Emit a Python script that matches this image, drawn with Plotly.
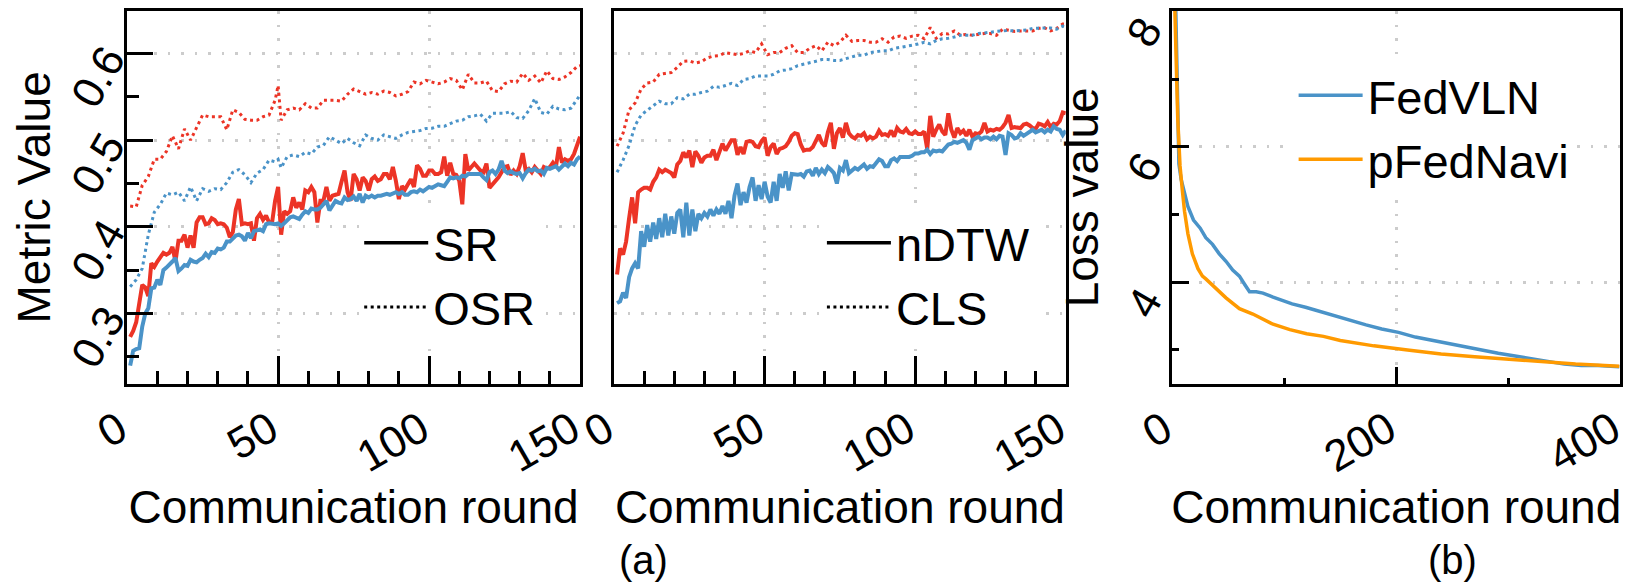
import plotly.graph_objects as go

# ---------------- data ----------------
ROUNDS = list(range(1, 151))
LEFT_DOT_ROUNDS = sorted(list(range(1, 150, 2)) + [50, 150])
MID_DOT_ROUNDS = list(range(1, 150, 2)) + [150]

SR_PFEDNAVI = [
    .273, .28, .29, .31, .333, .33, .32, .358, .354, .36,
    .365, .37, .368, .37, .377, .36, .384, .384, .391, .376,
    .39, .376, .405, .411, .411, .403, .404, .41, .408, .403,
    .404, .403, .399, .388, .394, .42, .432, .403, .404, .403,
    .404, .384, .41, .415, .408, .413, .405, .405, .43, .446,
    .391, .418, .415, .418, .434, .422, .428, .42, .442, .44,
    .446, .44, .405, .43, .43, .446, .43, .436, .437, .438,
    .452, .465, .44, .43, .461, .455, .442, .457, .453, .442,
    .455, .458, .453, .455, .461, .461, .455, .469, .453, .432,
    .447, .443, .449, .455, .446, .471, .467, .459, .459, .465,
    .465, .461, .461, .463, .481, .459, .474, .461, .46, .453,
    .426, .484, .465, .47, .473, .469, .465, .463, .473, .445,
    .449, .453, .457, .463, .469, .47, .46, .465, .461, .47,
    .485, .465, .467, .463, .469, .465, .461, .469, .467, .469,
    .474, .469, .492, .474, .478, .476, .478, .484, .496, .504]
SR_FEDVLN = [
    .24, .257, .259, .26, .285, .30, .306, .329, .33, .339,
    .333, .35, .353, .356, .36, .364, .349, .352, .356, .355,
    .362, .36, .359, .362, .364, .369, .365, .371, .37, .375,
    .374, .376, .383, .383, .387, .39, .391, .389, .384, .393,
    .387, .395, .396, .397, .395, .403, .404, .403, .403, .404,
    .401, .404, .407, .411, .412, .41, .409, .414, .418, .416,
    .421, .42, .42, .422, .427, .43, .419, .424, .43, .428,
    .427, .434, .431, .432, .435, .43, .438, .428, .436, .434,
    .436, .434, .436, .436, .437, .438, .437, .438, .44, .438,
    .44, .437, .437, .44, .441, .44, .443, .441, .443, .446,
    .445, .447, .449, .448, .447, .452, .457, .456, .457, .456,
    .459, .458, .461, .461, .461, .46, .461, .457, .454, .463,
    .465, .461, .466, .476, .465, .462, .464, .462, .461, .462,
    .456, .462, .466, .465, .467, .464, .465, .461, .468, .467,
    .468, .47, .466, .47, .473, .47, .474, .472, .478, .481]
OSR_PFEDNAVI = [
    .424, .423, .448, .458, .478, .478, .487, .505, .49, .513,
    .5, .515, .529, .527, .527, .527, .512, .535, .532, .524,
    .523, .523, .527, .529, .546, .563, .523, .535, .537, .535, .542,
    .537, .537, .546, .546, .546, .545, .553, .559, .556, .553,
    .555, .553, .5565, .555, .551, .553, .556, .567, .565, .569,
    .567, .565, .567, .571, .569, .558, .576, .566, .566, .568,
    .557, .556, .565, .568, .567, .577, .569, .574, .566, .580,
    .571, .570, .573, .578, .585, .586]
OSR_FEDVLN = [
    .331, .339, .352, .391, .417, .426, .439, .437, .44, .43,
    .446, .43, .444, .441, .444, .443, .451, .463, .466, .46,
    .451, .462, .466, .477, .475, .478, .468, .481, .483, .481, .486,
    .484, .492, .494, .504, .5, .496, .502, .497, .4935, .506,
    .502, .5, .506, .504, .502, .506, .509, .51, .511, .5135,
    .5137, .516, .516, .519, .522, .523, .527, .528, .53, .522,
    .531, .531, .531, .533, .526, .525, .534, .548, .532, .53,
    .539, .536, .535, .537, .547, .552]

NDTW_PFEDNAVI = [
    .345, .375, .368, .383, .41, .434, .404, .44, .443, .445,
    .445, .443, .452, .457, .466, .463, .466, .464, .462, .457,
    .472, .476, .486, .48, .488, .469, .487, .482, .474, .48,
    .482, .482, .489, .477, .486, .496, .488, .493, .5, .5,
    .483, .492, .484, .498, .499, .498, .493, .492, .499, .503,
    .482, .492, .496, .484, .49, .491, .493, .498, .505, .508,
    .507, .495, .488, .489, .489, .492, .498, .506, .497, .493,
    .509, .52, .49, .508, .514, .503, .52, .508, .504, .502,
    .506, .505, .508, .501, .504, .502, .504, .511, .506, .507,
    .505, .511, .504, .514, .51, .509, .513, .508, .507, .51,
    .507, .507, .51, .49, .528, .504, .512, .518, .51, .506,
    .531, .512, .503, .514, .508, .511, .505, .512, .504, .508,
    .507, .51, .52, .51, .512, .511, .513, .512, .515, .52,
    .529, .514, .515, .515, .514, .518, .519, .517, .514, .513,
    .519, .518, .516, .521, .515, .519, .518, .522, .532, .531]
NDTW_FEDVLN = [
    .312, .314, .324, .318, .342, .352, .358, .352, .395, .377,
    .402, .383, .405, .386, .41, .388, .415, .39, .412, .392,
    .416, .42, .388, .428, .39, .42, .395, .415, .41, .416,
    .412, .42, .413, .42, .415, .424, .415, .43, .41, .436,
    .45, .425, .44, .428, .446, .457, .43, .448, .432, .452,
    .435, .428, .452, .43, .461, .445, .464, .442, .461, .46,
    .46, .461, .458, .464, .465, .459, .468, .461, .466, .462,
    .469, .466, .462, .45, .468, .465, .477, .462, .465, .468,
    .466, .469, .472, .467, .47, .469, .474, .478, .476, .47,
    .47, .477, .479, .476, .4807, .4807, .4805, .4807, .482, .4846,
    .4846, .486, .486, .489, .484, .488, .487, .488, .487, .492,
    .495, .496, .498, .497, .499, .5, .497, .489, .5, .502,
    .504, .501, .503, .503, .501, .504, .501, .505, .504, .483,
    .508, .506, .502, .503, .508, .505, .507, .51, .512, .509,
    .511, .512, .509, .512, .51, .516, .513, .512, .506, .511]
CLS_PFEDNAVI = [
    .493, .508, .535, .543, .559, .566, .567, .576, .577, .578,
    .584, .591, .5915, .589, .5905, .595, .597, .5975, .601, .6,
    .5985, .6, .603, .601, .611, .5985, .601, .601, .606, .609,
    .601, .601, .606, .609, .603, .613, .609, .613, .621, .614,
    .615, .615, .613, .613, .617, .613, .619, .62, .6175, .62,
    .621, .617, .63, .6175, .623, .6225, .626, .621, .622, .621,
    .622, .623, .623, .621, .628, .627, .6255, .626, .626, .626,
    .629, .6295, .626, .629, .634, .634]
CLS_FEDVLN = [
    .463, .477, .494, .517, .529, .534, .539, .545, .542, .542,
    .549, .5475, .553, .553, .555, .5565, .562, .561, .563, .5655,
    .563, .57, .571, .574, .574, .574, .576, .58, .581, .5825,
    .586, .5875, .5895, .591, .593, .593, .592, .592, .594, .596,
    .598, .598, .601, .602, .603, .603, .606, .607, .608, .6095,
    .611, .613, .611, .615, .617, .6175, .619, .621, .621, .621,
    .623, .6235, .6245, .6255, .626, .6265, .626, .6265, .627, .629,
    .629, .6295, .6295, .628, .6315, .631]

LOSS_FEDVLN_ROUNDS = [1, 2, 3, 4, 5, 6, 8, 11, 14, 19, 25, 30, 36, 42, 48, 54, 60, 65, 69, 75,
                      81, 90, 99, 107, 119, 131, 143, 158, 173, 187, 202, 217, 232, 247, 262,
                      276, 291, 306, 321, 336, 350, 365, 380, 399]
LOSS_FEDVLN = [9.8, 8.9, 8.1, 6.9, 6.0, 5.75, 5.52, 5.32, 5.12, 4.92, 4.8, 4.66, 4.56, 4.42,
               4.31, 4.18, 4.09, 3.96, 3.86, 3.86, 3.84, 3.78, 3.73, 3.68, 3.63, 3.57, 3.51,
               3.44, 3.37, 3.31, 3.26, 3.19, 3.14, 3.09, 3.04, 2.99, 2.95, 2.91, 2.87, 2.84,
               2.79, 2.77, 2.77, 2.75]
LOSS_PFEDNAVI_ROUNDS = [1, 2, 3, 4, 5, 6, 7, 9, 11, 14, 18, 23, 27, 30, 40, 48, 60, 72, 90,
                        105, 120, 135, 150, 165, 180, 210, 240, 270, 300, 330, 360, 399]
LOSS_PFEDNAVI = [8.9, 8.1, 7.6, 7.0, 6.4, 6.0, 5.72, 5.37, 5.05, 4.72, 4.42, 4.2, 4.09, 4.05,
                 3.9, 3.77, 3.61, 3.53, 3.38, 3.3, 3.24, 3.2, 3.14, 3.1, 3.06, 3.0, 2.94, 2.9,
                 2.86, 2.83, 2.79, 2.76]

X_TICKS_A = [0, 50, 100, 150]
X_MINOR_A = [10, 20, 30, 40, 60, 70, 80, 90, 110, 120, 130, 140]
Y_TICKS_A = [0.3, 0.4, 0.5, 0.6]
Y_TICK_TEXT_A = ["0.3", "0.4", "0.5", "0.6"]
Y_MINOR_A = [0.25, 0.35, 0.45, 0.55]
X_TICKS_B = [0, 200, 400]
X_MINOR_B = [100, 300]
Y_TICKS_B = [4, 6, 8]
Y_MINOR_B = [3, 5, 7]

RED = "#EC3426"
BLUE = "#4A93C8"
ORANGE = "#FF9A00"
FONT = "Liberation Sans, Arial, Helvetica, sans-serif"
DOT = "3px,3.5px"
W, H = 1641, 584

# the axes use automargin, which widens the left page margin to make room for the
# rotated "0" tick labels; positions below are given for that final plot area
ML, MR, MT, MB = 44.6, 0.4, 9.3, 0.0
PW, PH = W - ML - MR, H - MT - MB


def fx(px):
    return (px - ML) / PW


def fy(py):
    return (H - MB - py) / PH


fig = go.Figure()


def line(x, y, color, dash, width, xa, ya, name=None, legend=None, show=False):
    fig.add_trace(go.Scatter(x=x, y=y, mode="lines", name=name,
                             line=dict(color=color, dash=dash, width=width),
                             xaxis=xa, yaxis=ya, showlegend=show,
                             legend=legend, hoverinfo="skip"))


line(LEFT_DOT_ROUNDS, OSR_PFEDNAVI, RED, DOT, 3, "x", "y")
line(LEFT_DOT_ROUNDS, OSR_FEDVLN, BLUE, DOT, 3, "x", "y")
line(ROUNDS, SR_PFEDNAVI, RED, "solid", 4, "x", "y")
line(ROUNDS, SR_FEDVLN, BLUE, "solid", 4, "x", "y")
line([None], [None], "black", "solid", 3.5, "x", "y", "SR", "legend", True)
line([None], [None], "black", DOT, 3, "x", "y", "OSR", "legend", True)

line(MID_DOT_ROUNDS, CLS_PFEDNAVI, RED, DOT, 3, "x2", "y2")
line(MID_DOT_ROUNDS, CLS_FEDVLN, BLUE, DOT, 3, "x2", "y2")
line(ROUNDS, NDTW_PFEDNAVI, RED, "solid", 4, "x2", "y2")
line(ROUNDS, NDTW_FEDVLN, BLUE, "solid", 4, "x2", "y2")
line([None], [None], "black", "solid", 3.5, "x2", "y2", "nDTW", "legend2", True)
line([None], [None], "black", DOT, 3, "x2", "y2", "CLS", "legend2", True)

line(LOSS_FEDVLN_ROUNDS, LOSS_FEDVLN, BLUE, "solid", 3.5, "x3", "y3", "FedVLN", "legend3", True)
line(LOSS_PFEDNAVI_ROUNDS, LOSS_PFEDNAVI, ORANGE, "solid", 3.5, "x3", "y3", "pFedNavi", "legend3", True)

title_font = dict(size=46, color="black", family=FONT)
tick_font = dict(size=44, color="black", family=FONT)
FRAME = dict(showline=True, linewidth=3, linecolor="black", mirror=True, zeroline=False,
             showgrid=True, gridcolor="#cccccc", gridwidth=2.5, griddash="2.5px,11px",
             automargin=True)

YDOM = [fy(378), 1.0]
RNG_A = [0.219, 0.649]
RNG_B = [2.5, 8.01]


def minor(vals, length):
    return dict(tickmode="array", tickvals=vals, ticks="inside", ticklen=length,
                tickwidth=3, tickcolor="black")


legend_font = dict(size=47, family=FONT, color="black")

fig.update_layout(
    width=W, height=H, margin=dict(l=0, r=0, t=0, b=0),
    plot_bgcolor="white", paper_bgcolor="white",
    font=dict(family=FONT, color="black"),
    xaxis=dict(FRAME, domain=[fx(125.8), fx(579)], range=[0, 150], anchor="y",
               tickmode="array", tickvals=X_TICKS_A, ticks="inside", ticklen=28,
               tickwidth=3, tickcolor="black", minor=minor(X_MINOR_A, 13),
               tickangle=-30, tickfont=tick_font, ticklabelshift=-8,
               title=dict(text="Communication round", font=title_font, standoff=6)),
    yaxis=dict(FRAME, domain=YDOM, range=RNG_A, anchor="x",
               tickmode="array", tickvals=Y_TICKS_A, ticktext=Y_TICK_TEXT_A,
               ticks="inside", ticklen=26, tickwidth=3, tickcolor="black",
               minor=minor(Y_MINOR_A, 12),
               tickangle=-60, tickfont=tick_font, ticklabelstandoff=8,
               title=dict(text="Metric Value", font=title_font, standoff=0)),
    xaxis2=dict(FRAME, domain=[fx(613), fx(1065)], range=[0, 150], anchor="y2",
                tickmode="array", tickvals=X_TICKS_A, ticks="inside", ticklen=28,
                tickwidth=3, tickcolor="black", minor=minor(X_MINOR_A, 13),
                tickangle=-30, tickfont=tick_font, ticklabelshift=-8,
                title=dict(text="Communication round", font=title_font, standoff=6)),
    yaxis2=dict(FRAME, domain=YDOM, range=RNG_A, anchor="x2",
                tickmode="array", tickvals=Y_TICKS_A, ticks="", showticklabels=False),
    xaxis3=dict(FRAME, domain=[fx(1171.5), fx(1620)], range=[0, 400], anchor="y3",
                tickmode="array", tickvals=X_TICKS_B, ticks="inside", ticklen=17,
                tickwidth=3, tickcolor="black", minor=minor(X_MINOR_B, 6),
                tickangle=-30, tickfont=tick_font, ticklabelshift=-8,
                ticklabeloverflow="allow",
                title=dict(text="Communication round", font=title_font, standoff=6)),
    yaxis3=dict(FRAME, domain=YDOM, range=RNG_B, anchor="x3",
                tickmode="array", tickvals=Y_TICKS_B, ticks="inside", ticklen=17,
                tickwidth=3, tickcolor="black", minor=minor(Y_MINOR_B, 7),
                tickangle=-60, tickfont=tick_font, ticklabelstandoff=16,
                ticklabelshift=13, ticklabeloverflow="allow",
                title=dict(text="Loss value", font=title_font, standoff=4)),
    legend=dict(x=fx(358), y=fy(202), xanchor="left", yanchor="top", bgcolor="white",
                font=legend_font, itemwidth=64, borderwidth=0),
    legend2=dict(x=fx(821), y=fy(202), xanchor="left", yanchor="top", bgcolor="white",
                 font=legend_font, itemwidth=64, borderwidth=0),
    legend3=dict(x=fx(1293), y=fy(56), xanchor="left", yanchor="top", bgcolor="white",
                 font=legend_font, itemwidth=64, borderwidth=0),
    annotations=[
        dict(text="(a)", x=fx(642), y=fy(552), xref="paper", yref="paper",
             xanchor="center", yanchor="middle",
             showarrow=False, font=dict(size=40, family=FONT, color="black")),
        dict(text="(b)", x=fx(1452), y=fy(552), xref="paper", yref="paper",
             xanchor="center", yanchor="middle",
             showarrow=False, font=dict(size=40, family=FONT, color="black")),
    ],
)

fig.write_html("out.html")
